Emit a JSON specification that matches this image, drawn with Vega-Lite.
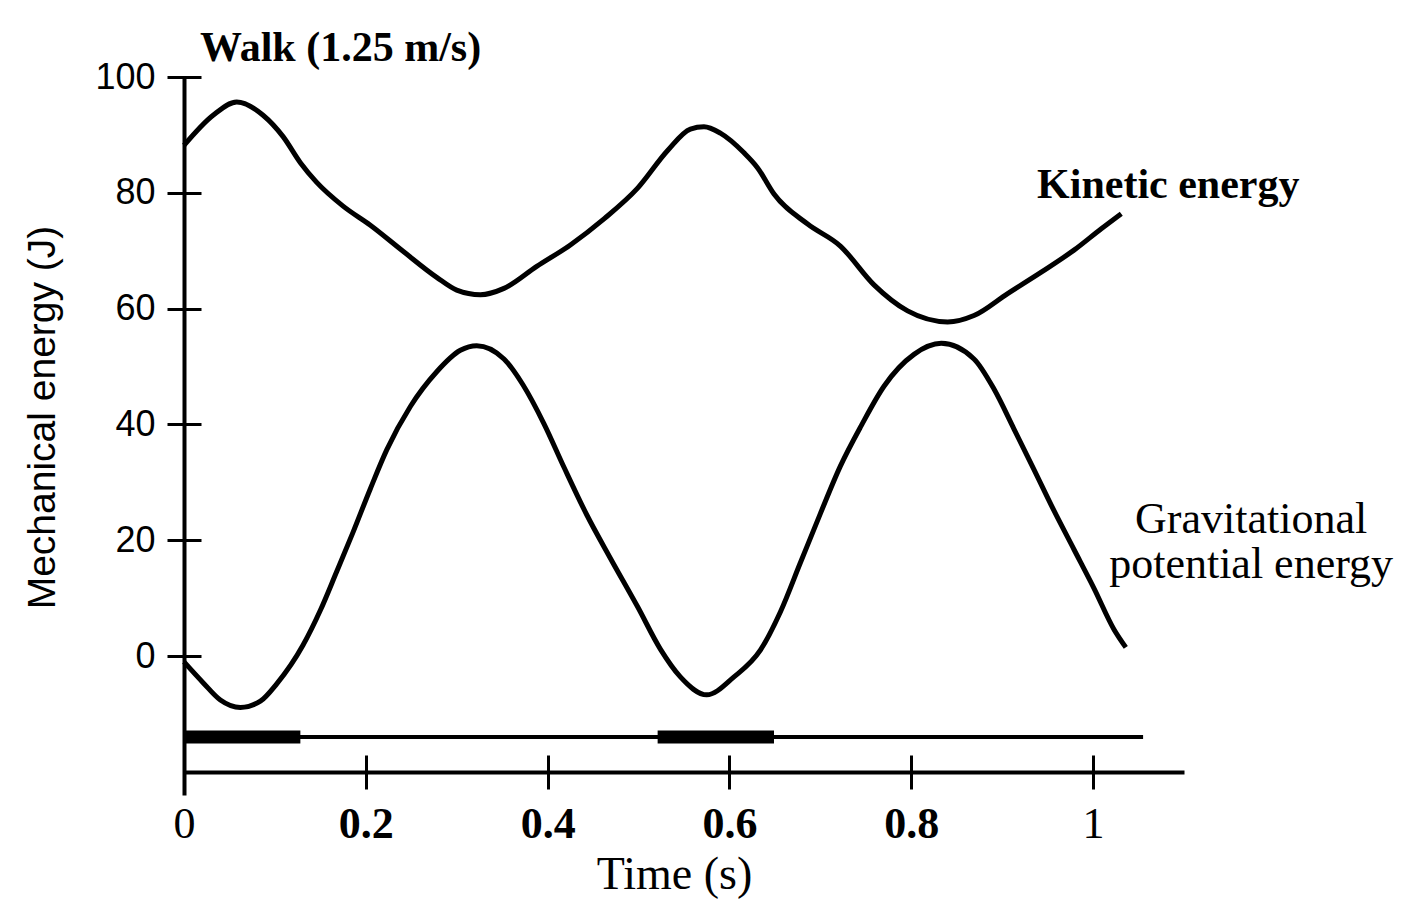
{
  "$schema": "https://vega.github.io/schema/vega-lite/v6.json",
  "width": 1000,
  "height": 718,
  "autosize": {"type": "none"},
  "padding": {"left": 184, "top": 77, "right": 220, "bottom": 114},
  "background": "white",
  "config": {"view": {"stroke": null}},
  "datasets": {
    "curves": [
      {"series": "Kinetic energy", "t": 0.000, "e": 88.2},
      {"series": "Kinetic energy", "t": 0.032, "e": 93.4},
      {"series": "Kinetic energy", "t": 0.058, "e": 95.7},
      {"series": "Kinetic energy", "t": 0.087, "e": 93.4},
      {"series": "Kinetic energy", "t": 0.109, "e": 89.7},
      {"series": "Kinetic energy", "t": 0.128, "e": 85.2},
      {"series": "Kinetic energy", "t": 0.146, "e": 81.8},
      {"series": "Kinetic energy", "t": 0.175, "e": 77.7},
      {"series": "Kinetic energy", "t": 0.205, "e": 74.4},
      {"series": "Kinetic energy", "t": 0.241, "e": 69.9},
      {"series": "Kinetic energy", "t": 0.278, "e": 65.4},
      {"series": "Kinetic energy", "t": 0.300, "e": 63.2},
      {"series": "Kinetic energy", "t": 0.326, "e": 62.4},
      {"series": "Kinetic energy", "t": 0.352, "e": 63.5},
      {"series": "Kinetic energy", "t": 0.388, "e": 67.3},
      {"series": "Kinetic energy", "t": 0.425, "e": 71.0},
      {"series": "Kinetic energy", "t": 0.462, "e": 75.5},
      {"series": "Kinetic energy", "t": 0.499, "e": 80.8},
      {"series": "Kinetic energy", "t": 0.532, "e": 87.3},
      {"series": "Kinetic energy", "t": 0.557, "e": 91.0},
      {"series": "Kinetic energy", "t": 0.572, "e": 91.4},
      {"series": "Kinetic energy", "t": 0.590, "e": 90.3},
      {"series": "Kinetic energy", "t": 0.616, "e": 86.9},
      {"series": "Kinetic energy", "t": 0.631, "e": 84.3},
      {"series": "Kinetic energy", "t": 0.649, "e": 79.8},
      {"series": "Kinetic energy", "t": 0.686, "e": 74.6},
      {"series": "Kinetic energy", "t": 0.722, "e": 70.8},
      {"series": "Kinetic energy", "t": 0.759, "e": 64.1},
      {"series": "Kinetic energy", "t": 0.796, "e": 59.6},
      {"series": "Kinetic energy", "t": 0.840, "e": 57.7},
      {"series": "Kinetic energy", "t": 0.869, "e": 58.8},
      {"series": "Kinetic energy", "t": 0.906, "e": 62.6},
      {"series": "Kinetic energy", "t": 0.943, "e": 66.3},
      {"series": "Kinetic energy", "t": 0.979, "e": 70.1},
      {"series": "Kinetic energy", "t": 1.009, "e": 73.8},
      {"series": "Kinetic energy", "t": 1.031, "e": 76.4},
      {"series": "Gravitational potential energy", "t": 0.000, "e": -1.0},
      {"series": "Gravitational potential energy", "t": 0.021, "e": -4.6},
      {"series": "Gravitational potential energy", "t": 0.040, "e": -7.6},
      {"series": "Gravitational potential energy", "t": 0.062, "e": -8.9},
      {"series": "Gravitational potential energy", "t": 0.084, "e": -7.8},
      {"series": "Gravitational potential energy", "t": 0.102, "e": -4.8},
      {"series": "Gravitational potential energy", "t": 0.131, "e": 1.9},
      {"series": "Gravitational potential energy", "t": 0.150, "e": 7.9},
      {"series": "Gravitational potential energy", "t": 0.168, "e": 14.6},
      {"series": "Gravitational potential energy", "t": 0.186, "e": 21.4},
      {"series": "Gravitational potential energy", "t": 0.205, "e": 28.9},
      {"series": "Gravitational potential energy", "t": 0.223, "e": 35.6},
      {"series": "Gravitational potential energy", "t": 0.249, "e": 43.1},
      {"series": "Gravitational potential energy", "t": 0.278, "e": 49.1},
      {"series": "Gravitational potential energy", "t": 0.304, "e": 52.8},
      {"series": "Gravitational potential energy", "t": 0.322, "e": 53.6},
      {"series": "Gravitational potential energy", "t": 0.352, "e": 51.3},
      {"series": "Gravitational potential energy", "t": 0.373, "e": 46.8},
      {"series": "Gravitational potential energy", "t": 0.396, "e": 40.1},
      {"series": "Gravitational potential energy", "t": 0.418, "e": 32.6},
      {"series": "Gravitational potential energy", "t": 0.443, "e": 24.4},
      {"series": "Gravitational potential energy", "t": 0.469, "e": 16.9},
      {"series": "Gravitational potential energy", "t": 0.499, "e": 8.5},
      {"series": "Gravitational potential energy", "t": 0.524, "e": 1.2},
      {"series": "Gravitational potential energy", "t": 0.546, "e": -3.6},
      {"series": "Gravitational potential energy", "t": 0.575, "e": -6.7},
      {"series": "Gravitational potential energy", "t": 0.605, "e": -3.6},
      {"series": "Gravitational potential energy", "t": 0.634, "e": 1.0},
      {"series": "Gravitational potential energy", "t": 0.656, "e": 7.6},
      {"series": "Gravitational potential energy", "t": 0.678, "e": 16.1},
      {"series": "Gravitational potential energy", "t": 0.700, "e": 24.6},
      {"series": "Gravitational potential energy", "t": 0.722, "e": 32.8},
      {"series": "Gravitational potential energy", "t": 0.745, "e": 39.8},
      {"series": "Gravitational potential energy", "t": 0.770, "e": 46.6},
      {"series": "Gravitational potential energy", "t": 0.803, "e": 52.1},
      {"series": "Gravitational potential energy", "t": 0.833, "e": 54.0},
      {"series": "Gravitational potential energy", "t": 0.869, "e": 51.3},
      {"series": "Gravitational potential energy", "t": 0.891, "e": 46.1},
      {"series": "Gravitational potential energy", "t": 0.913, "e": 39.2},
      {"series": "Gravitational potential energy", "t": 0.935, "e": 32.2},
      {"series": "Gravitational potential energy", "t": 0.957, "e": 25.1},
      {"series": "Gravitational potential energy", "t": 0.979, "e": 18.4},
      {"series": "Gravitational potential energy", "t": 1.001, "e": 11.7},
      {"series": "Gravitational potential energy", "t": 1.023, "e": 4.6},
      {"series": "Gravitational potential energy", "t": 1.036, "e": 1.5}
    ],
    "phaseLine": [{"t": 0, "t2": 1.055, "e": -14}],
    "doubleSupport": [
      {"t": 0, "t2": 0.128, "e": -14},
      {"t": 0.521, "t2": 0.649, "e": -14}
    ],
    "boldLabels": [
      {"label": "Walk (1.25 m/s)", "t": 0.0176, "e": 102.7},
      {"label": "Kinetic energy", "t": 0.9384, "e": 79.1}
    ],
    "plainLabels": [
      {"label": "Gravitational\npotential energy", "t": 1.1738, "e": 21.2}
    ]
  },
  "resolve": {"axis": {"x": "independent", "y": "independent"}},
  "layer": [
    {
      "data": {"name": "curves"},
      "mark": {"type": "line", "color": "black", "strokeWidth": 5, "interpolate": "monotone"},
      "encoding": {
        "x": {
          "field": "t", "type": "quantitative",
          "scale": {"domain": [0, 1.1], "nice": false, "zero": false},
          "axis": {
            "orient": "bottom", "offset": -40,
            "values": [0, 0.2, 0.4, 0.6, 0.8, 1],
            "format": "~g",
            "tickSize": 34, "tickWidth": 3, "tickColor": "black",
            "domain": false, "grid": false,
            "labelFont": "Liberation Serif", "labelFontSize": 44, "labelColor": "black",
            "labelFontWeight": {"condition": {"test": "datum.value > 0 && datum.value < 1", "value": "bold"}, "value": "normal"},
            "labelPadding": 13, "labelFlush": false, "labelOverlap": false,
            "title": "Time (s)",
            "titleFont": "Liberation Serif", "titleFontSize": 46, "titleFontWeight": "normal", "titleColor": "black",
            "titleX": 490, "titleY": 133, "titleBaseline": "alphabetic", "titleAlign": "center"
          }
        },
        "y": {
          "field": "e", "type": "quantitative",
          "scale": {"domain": [-24, 100], "nice": false, "zero": false},
          "axis": {
            "orient": "left", "offset": -17,
            "values": [0, 20, 40, 60, 80, 100],
            "tickSize": 34, "tickWidth": 3, "tickColor": "black",
            "domain": false, "grid": false,
            "labelFont": "Liberation Sans", "labelFontSize": 36, "labelColor": "black",
            "labelPadding": 12, "labelFlush": false, "labelOverlap": false,
            "title": "Mechanical energy (J)",
            "titleFont": "Liberation Sans", "titleFontSize": 39, "titleFontWeight": "normal", "titleColor": "black",
            "titleX": -159, "titleY": 340, "titleAngle": -90, "titleBaseline": "middle", "titleAlign": "center"
          }
        },
        "detail": {"field": "series", "type": "nominal"}
      }
    },
    {
      "data": {"name": "phaseLine"},
      "mark": {"type": "rule", "color": "black", "strokeWidth": 4},
      "encoding": {
        "x": {
          "field": "t", "type": "quantitative",
          "scale": {"domain": [0, 1.1], "nice": false, "zero": false},
          "axis": {"orient": "bottom", "offset": -23, "domain": true, "domainWidth": 4, "domainColor": "black", "ticks": false, "labels": false, "grid": false, "title": null}
        },
        "x2": {"field": "t2"},
        "y": {
          "field": "e", "type": "quantitative",
          "scale": {"domain": [-24, 100], "nice": false, "zero": false},
          "axis": {"orient": "left", "offset": 0, "domain": true, "domainWidth": 4, "domainColor": "black", "ticks": false, "labels": false, "grid": false, "title": null}
        }
      }
    },
    {
      "data": {"name": "doubleSupport"},
      "mark": {"type": "rule", "color": "black", "strokeWidth": 13},
      "encoding": {
        "x": {"field": "t", "type": "quantitative", "scale": {"domain": [0, 1.1], "nice": false, "zero": false}, "axis": null},
        "x2": {"field": "t2"},
        "y": {"field": "e", "type": "quantitative", "scale": {"domain": [-24, 100], "nice": false, "zero": false}, "axis": null}
      }
    },
    {
      "data": {"name": "boldLabels"},
      "mark": {"type": "text", "font": "Liberation Serif", "fontSize": 42, "fontWeight": "bold", "color": "black", "align": "left", "baseline": "alphabetic"},
      "encoding": {
        "x": {"field": "t", "type": "quantitative", "scale": {"domain": [0, 1.1], "nice": false, "zero": false}, "axis": null},
        "y": {"field": "e", "type": "quantitative", "scale": {"domain": [-24, 100], "nice": false, "zero": false}, "axis": null},
        "text": {"field": "label", "type": "nominal"}
      }
    },
    {
      "data": {"name": "plainLabels"},
      "mark": {"type": "text", "font": "Liberation Serif", "fontSize": 44, "fontWeight": "normal", "color": "black", "align": "center", "baseline": "alphabetic", "lineBreak": "\n", "lineHeight": 45},
      "encoding": {
        "x": {"field": "t", "type": "quantitative", "scale": {"domain": [0, 1.1], "nice": false, "zero": false}, "axis": null},
        "y": {"field": "e", "type": "quantitative", "scale": {"domain": [-24, 100], "nice": false, "zero": false}, "axis": null},
        "text": {"field": "label", "type": "nominal"}
      }
    }
  ]
}
